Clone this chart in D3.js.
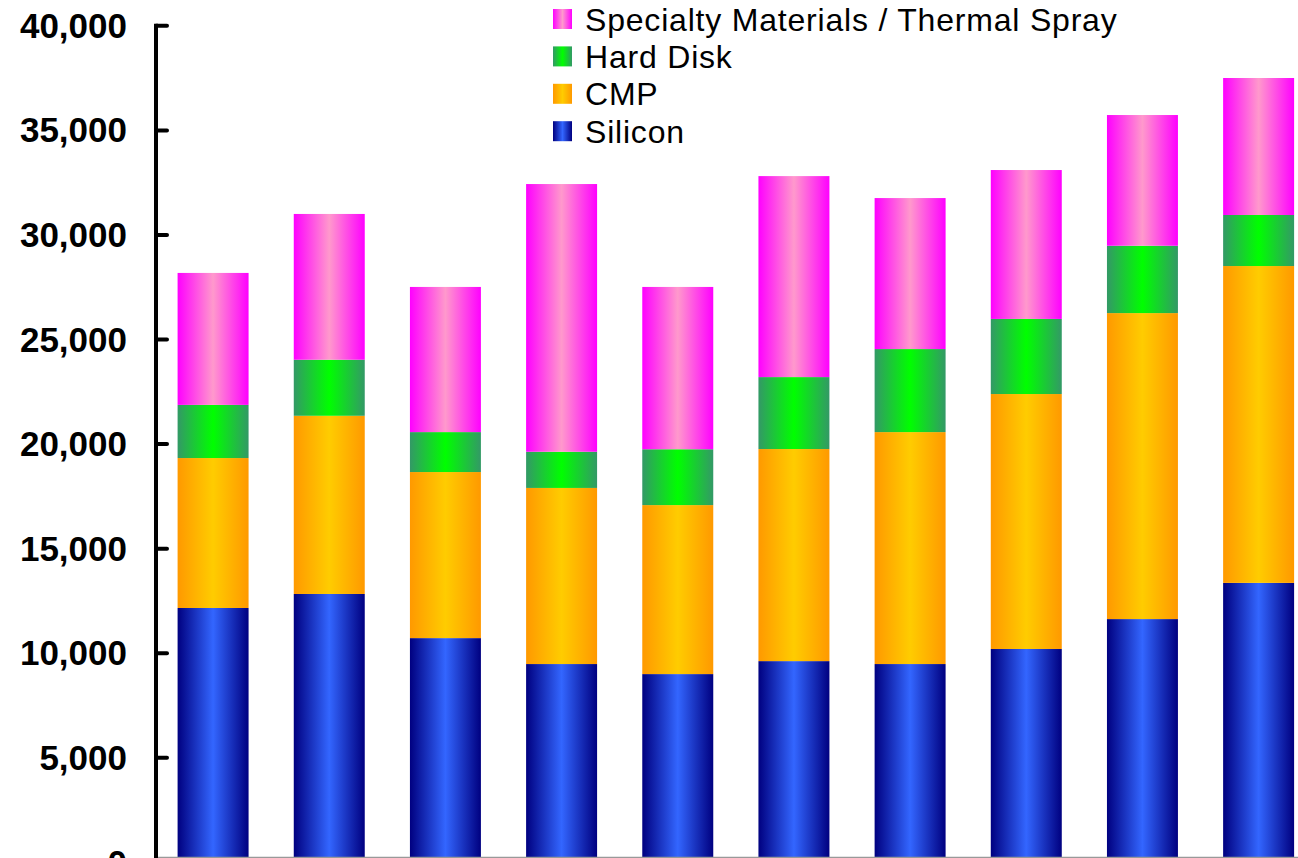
<!DOCTYPE html>
<html>
<head>
<meta charset="utf-8">
<script src="https://cdn.jsdelivr.net/npm/d3@7/dist/d3.min.js"></script>
<style>
  html, body { margin: 0; padding: 0; background: #ffffff; }
  svg { display: block; overflow: hidden; }
</style>
</head>
<body>
<svg id="chart" width="1298" height="858"></svg>
<script>
// ---- data ----
const categories = ["P1", "P2", "P3", "P4", "P5", "P6", "P7", "P8", "P9", "P10"];
const seriesNames = ["Silicon", "CMP", "Hard Disk", "Specialty Materials / Thermal Spray"];
const silicon    = [12140, 12810, 10700, 9460, 8980, 9600, 9460, 10180, 11610, 13340];
const cmp        = [7170, 8520, 7940, 8420, 8080, 10140, 11090, 12190, 14630, 15150];
const hardDisk   = [2540, 2680, 1910, 1730, 2670, 3440, 3970, 3590, 3220, 2440];
const specialty  = [6310, 6970, 6940, 12800, 7760, 9610, 7220, 7120, 6250, 6550];
const yTicks     = [0, 5000, 10000, 15000, 20000, 25000, 30000, 35000, 40000];
const legendOrder = ["Specialty Materials / Thermal Spray", "Hard Disk", "CMP", "Silicon"];

// colours: [edge, centre]
const gradColors = {
  "Silicon": ["#000080", "#3366FF"],
  "CMP": ["#FF9900", "#FFCC00"],
  "Hard Disk": ["#339966", "#00FF00"],
  "Specialty Materials / Thermal Spray": ["#FF00FF", "#FF99CC"]
};

const table = categories.map((c, i) => ({
  cat: c,
  "Silicon": silicon[i],
  "CMP": cmp[i],
  "Hard Disk": hardDisk[i],
  "Specialty Materials / Thermal Spray": specialty[i]
}));

const svg = d3.select("#chart");
const axisX = 156;
const x = d3.scaleBand().domain(categories).range([155, 1316.7])
  .paddingInner(0.389).paddingOuter(0.1945);
const y = d3.scaleLinear().domain([0, 40000]).range([861.9, 25.3]);

// gradients
const defs = svg.append("defs");
seriesNames.forEach((s, i) => {
  const g = defs.append("linearGradient").attr("id", "grad" + i)
    .attr("x1", "0%").attr("x2", "100%").attr("y1", "0%").attr("y2", "0%");
  g.append("stop").attr("offset", "0%").attr("stop-color", gradColors[s][0]);
  g.append("stop").attr("offset", "50%").attr("stop-color", gradColors[s][1]);
  g.append("stop").attr("offset", "100%").attr("stop-color", gradColors[s][0]);
});

const stack = d3.stack().keys(seriesNames);
const stacked = stack(table);

svg.append("g").selectAll("g").data(stacked).join("g")
  .attr("fill", (d, i) => `url(#grad${i})`)
  .selectAll("rect").data(d => d).join("rect")
  .attr("x", d => x(d.data.cat))
  .attr("width", x.bandwidth())
  .attr("y", d => y(d[1]))
  .attr("height", d => y(d[0]) - y(d[1]));

// x axis line (gray)
svg.append("line")
  .attr("x1", axisX).attr("x2", 1298)
  .attr("y1", 857.5).attr("y2", 857.5)
  .attr("stroke", "#999").attr("stroke-width", 1.5);

// y axis
const yAxis = d3.axisRight(y).tickValues(yTicks).tickSize(11).tickFormat("");
const ya = svg.append("g").attr("transform", `translate(${axisX},0)`).call(yAxis);
ya.select(".domain").attr("stroke", "#000").attr("stroke-width", 4)
  .attr("d", `M0,${y(40000) - 1.5}V${y(0)}`);
ya.selectAll(".tick line").attr("stroke", "#000").attr("stroke-width", 4)
  .attr("stroke-linecap", "round");

svg.append("g").selectAll("text").data(yTicks).join("text")
  .attr("x", 127)
  .attr("y", d => y(d))
  .attr("dy", "0.36em")
  .attr("text-anchor", "end")
  .attr("font-family", "Liberation Sans, Arial, sans-serif")
  .attr("font-weight", "bold")
  .attr("font-size", 35)
  .attr("fill", "#000")
  .text(d => d3.format(",")(d));

// legend
const leg = svg.append("g");
legendOrder.forEach((s, i) => {
  const idx = seriesNames.indexOf(s);
  const cy = 19 + i * 37.4;
  leg.append("rect").attr("x", 553).attr("y", cy - 10).attr("width", 19).attr("height", 20)
    .attr("fill", `url(#grad${idx})`);
  leg.append("text").attr("x", 585).attr("y", cy).attr("dy", "0.36em")
    .attr("font-family", "Liberation Sans, Arial, sans-serif")
    .attr("font-size", 32)
    .attr("letter-spacing", 0.8)
    .attr("fill", "#000")
    .text(s);
});
</script>
</body>
</html>
